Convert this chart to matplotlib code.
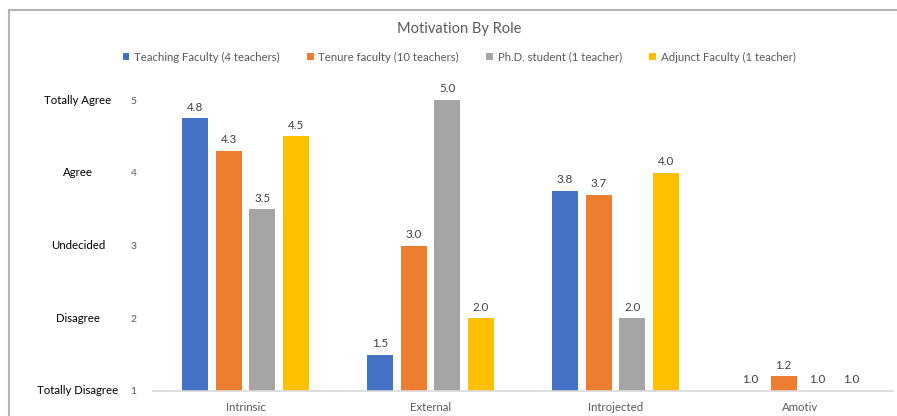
import numpy as np
import matplotlib.pyplot as plt
import matplotlib.transforms as mtransforms
from matplotlib.lines import Line2D

plt.rcParams['font.family'] = ['Lato', 'DejaVu Sans']

categories = ['Intrinsic', 'External', 'Introjected', 'Amotiv']
series = ['Teaching Faculty (4 teachers)', 'Tenure faculty (10 teachers)',
          'Ph.D. student (1 teacher)', 'Adjunct Faculty (1 teacher)']
teaching = [4.75, 1.5, 3.75, 1.0]
tenure = [4.3, 3.0, 3.7, 1.2]
phd = [3.5, 5.0, 2.0, 1.0]
adjunct = [4.5, 2.0, 4.0, 1.0]
levels = ['Totally Disagree', 'Disagree', 'Undecided', 'Agree', 'Totally Agree']
level_ticks = [1, 2, 3, 4, 5]

colors = ['#4472C4', '#ED7D31', '#A5A5A5', '#FFC000']


def main():
    fig = plt.figure(figsize=(8.97, 4.16), dpi=100)
    ax = fig.add_axes([153/897, 25/416, 740/897, 291/416])

    x = np.arange(len(categories))
    slot = 0.182
    width = 0.141
    for i, (vals, name) in enumerate(zip([teaching, tenure, phd, adjunct], series)):
        vals = np.array(vals)
        bars = ax.bar(x + (i - 1.5) * slot, vals - 1, bottom=1, width=width,
                      color=colors[i], label=name)
        ax.bar_label(bars, labels=[f'{v:.1f}' for v in vals], padding=4,
                     fontsize=8.4, color='#404040')

    ax.set_xlim(-0.5, len(categories) - 0.5)
    ax.set_ylim(1, 5)
    ax.set_xticks(x)
    ax.set_xticklabels(categories, fontsize=8.2, color='#595959')
    ax.set_yticks(level_ticks)
    ax.set_yticklabels([str(t) for t in level_ticks], fontsize=7.5, color='#595959')
    ax.tick_params(axis='both', length=0)
    ax.tick_params(axis='x', pad=8)
    ax.tick_params(axis='y', pad=12)
    for s in ['top', 'right', 'left']:
        ax.spines[s].set_visible(False)
    ax.spines['bottom'].set_color('#d9d9d9')
    ax.spines['bottom'].set_linewidth(1.2)

    # verbal scale labels on the left
    trans = mtransforms.blended_transform_factory(fig.transFigure, ax.transData)
    for lv, t in zip(levels, level_ticks):
        ax.text(78/897, t, lv, transform=trans, ha='center', va='center',
                fontsize=8.2, color='black', clip_on=False)

    fig.text(459/897, 1 - 29/416, 'Motivation By Role', ha='center', va='center',
             fontsize=10.5, color='#595959')

    fig.legend(loc='center', bbox_to_anchor=(459/897, 1 - 57/416), ncol=4,
               frameon=False, fontsize=8.2, handlelength=0.6, handleheight=0.6,
               handletextpad=0.4, columnspacing=2.4, labelcolor='#595959')

    # chart frame (cropped at right and bottom)
    fig.add_artist(Line2D([9/897, 1], [1 - 10/416, 1 - 10/416], transform=fig.transFigure,
                          color='#b4b4b4', linewidth=1.5))
    fig.add_artist(Line2D([9/897, 9/897], [0, 1 - 10/416], transform=fig.transFigure,
                          color='#b4b4b4', linewidth=1.5))

    plt.savefig('out.png', dpi=100)
    plt.close()


if __name__ == "__main__":
    main()
